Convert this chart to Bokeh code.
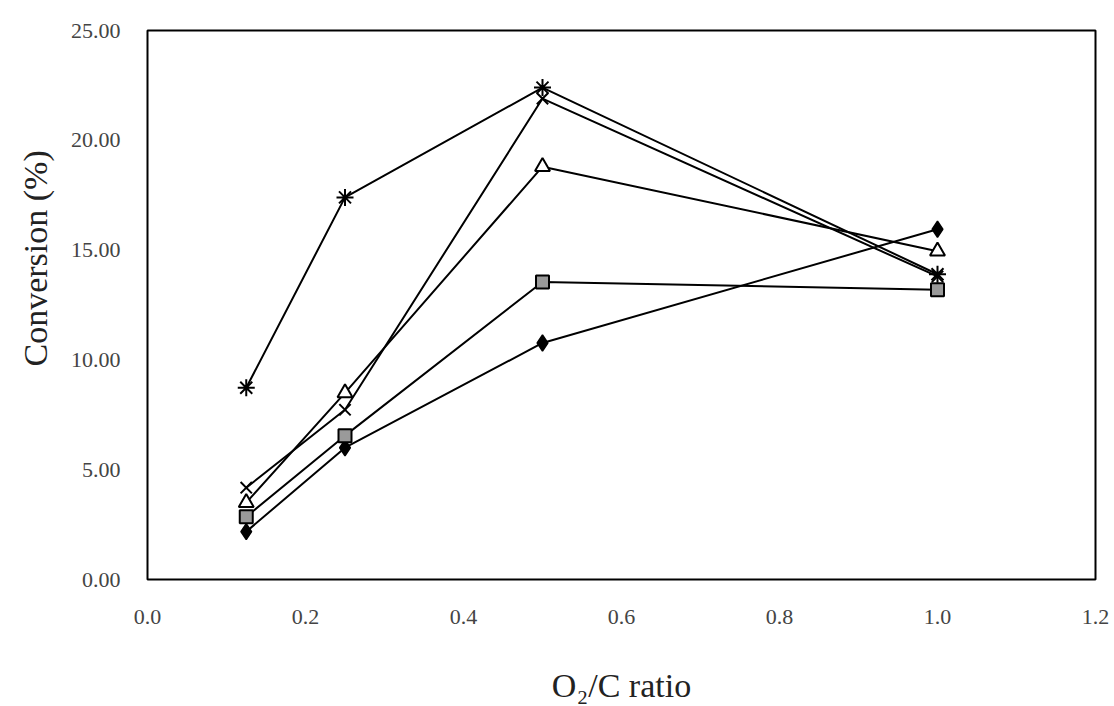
from bokeh.plotting import figure
from bokeh.models import Range1d, FixedTicker, PrintfTickFormatter, Title
from bokeh.embed import file_html
from bokeh.resources import INLINE

# O2/C ratio for every series
o2c_ratio = [0.125, 0.25, 0.5, 1.0]

# Conversion (%) of each series
conv_diamond = [2.18, 6.00, 10.77, 15.95]
conv_square = [2.86, 6.55, 13.55, 13.20]
conv_triangle = [3.50, 8.50, 18.80, 14.95]
conv_cross = [4.18, 7.73, 21.90, 13.80]
conv_star = [8.73, 17.40, 22.40, 13.90]

y_ticks = [0, 5, 10, 15, 20, 25]
x_ticks = [0.0, 0.2, 0.4, 0.6, 0.8, 1.0, 1.2]

FONT = "Liberation Serif"

p = figure(width=1114, height=706, output_backend="svg", toolbar_location=None,
           x_range=Range1d(0, 1.2), y_range=Range1d(0, 25),
           min_border_left=147, min_border_right=19, min_border_top=30, min_border_bottom=126)

p.xgrid.visible = False
p.ygrid.visible = False
p.outline_line_color = "black"
p.outline_line_width = 2
p.background_fill_color = "white"
p.border_fill_color = "white"

for ax in (p.xaxis[0], p.yaxis[0]):
    ax.axis_line_color = None
    ax.major_tick_line_color = None
    ax.minor_tick_line_color = None
    ax.major_label_text_font = FONT
    ax.major_label_text_font_size = "22px"
    ax.major_label_text_color = "#444444"
    ax.axis_label_text_font = FONT
    ax.axis_label_text_font_size = "34px"
    ax.axis_label_text_font_style = "normal"
    ax.axis_label_text_color = "#222222"

p.yaxis.ticker = FixedTicker(ticks=y_ticks)
p.yaxis.formatter = PrintfTickFormatter(format="%.2f")
p.yaxis.major_label_standoff = 21

p.xaxis.ticker = FixedTicker(ticks=x_ticks)
p.xaxis.formatter = PrintfTickFormatter(format="%.1f")
p.xaxis.major_label_standoff = 24
p.xaxis.axis_label = "O\u2082/C ratio"
p.xaxis.axis_label_standoff = 40

# y-axis title in the left panel, starting well above the bottom of the frame
p.add_layout(Title(text="Conversion (%)", align="left", offset=213, standoff=27,
                   text_font=FONT, text_font_size="34px", text_font_style="normal",
                   text_color="#222222"), "left")

# connecting lines
for ys in (conv_diamond, conv_square, conv_triangle, conv_cross, conv_star):
    p.line(o2c_ratio, ys, line_color="black", line_width=2)

# markers
p.scatter(o2c_ratio, conv_diamond, marker="diamond", size=16,
          fill_color="black", line_color="black", line_width=1.5)
p.scatter(o2c_ratio, conv_square, marker="square", size=13,
          fill_color="#9a9a9a", line_color="black", line_width=2)
p.scatter(o2c_ratio, conv_triangle, marker="triangle", size=15,
          fill_color="white", line_color="black", line_width=2)
p.scatter(o2c_ratio, conv_cross, marker="x", size=16,
          line_color="black", line_width=2)
p.scatter(o2c_ratio, conv_star, marker="asterisk", size=17,
          line_color="black", line_width=2)

open("out.html", "w").write(file_html(p, INLINE))
